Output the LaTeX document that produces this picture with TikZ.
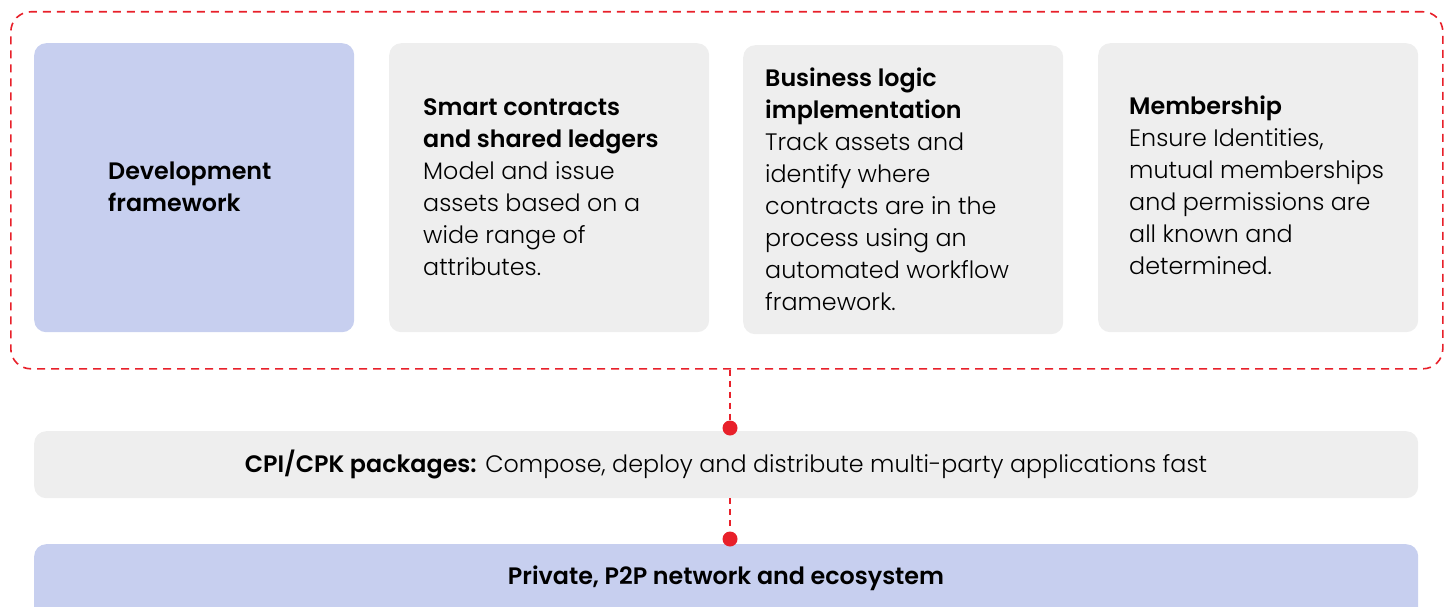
\documentclass[tikz,border=0pt]{standalone}
\usepackage{fontspec}
\setmainfont{Poppins}[UprightFont={* Light},BoldFont={* SemiBold}]
\definecolor{lav}{HTML}{C7CFEF}
\definecolor{lgray}{HTML}{EEEEEE}
\definecolor{rd}{HTML}{E8202A}
\begin{document}
\begin{tikzpicture}[x=1pt,y=-1pt,
  box/.style={rectangle,rounded corners=12pt,minimum width=320pt,minimum height=289pt,inner sep=0pt,anchor=north west},
  bar/.style={rectangle,rounded corners=12pt,minimum width=1384pt,inner sep=0pt,anchor=north west},
  txt/.style={anchor=west,align=left,inner sep=0pt,font=\fontsize{23.8}{32}\selectfont,text=black},
  frame/.style={draw=rd,line width=1.6pt,dash pattern=on 8pt off 6pt,rounded corners=20pt},
  conn/.style={draw=rd,line width=1.6pt,dash pattern=on 6pt off 5pt},
  dotn/.style={circle,fill=rd,minimum size=15pt,inner sep=0pt}]
\useasboundingbox (0,0) rectangle (1447,607);
\clip (0,0) rectangle (1447,607);
% outer frame
\node[frame,rectangle,inner sep=0pt,anchor=north west,minimum width=1432pt,minimum height=357pt] (frame) at (10,11) {};
% top boxes
\node[box,fill=lav] (b1) at (34,43) {};
\node[box,fill=lgray] (b2) at (389,43) {};
\node[box,fill=lgray] (b3) at (743,45) {};
\node[box,fill=lgray] (b4) at (1098,43) {};
\node[txt] (t1) at (108,187) {\textbf{Development}\\\textbf{framework}};
\node[txt] (t2) at (423,187) {\textbf{Smart contracts}\\\textbf{and shared ledgers}\\Model and issue\\assets based on a\\wide range of\\attributes.};
\node[txt] (t3) at (765,189) {\textbf{Business logic}\\\textbf{implementation}\\Track assets and\\identify where\\contracts are in the\\process using an\\automated workflow\\framework.};
\node[txt] (t4) at (1129,185) {\textbf{Membership}\\Ensure Identities,\\mutual memberships\\and permissions are\\all known and\\determined.};
% bars
\node[bar,fill=lgray,minimum height=67pt] (cpi) at (34,431) {};
\node[txt,anchor=center] (cpit) at (726,464) {\textbf{CPI/CPK packages:} Compose, deploy and distribute multi-party applications fast};
\node[bar,fill=lav,minimum height=90pt] (p2p) at (34,544) {};
\node[txt,anchor=center] (p2pt) at (726,578) {\textbf{Private, P2P network and ecosystem}};
% connectors
\node[dotn] (d1) at (730,428) {};
\node[dotn] (d2) at (730,539) {};
\draw[conn] (frame.south -| d1) -- (d1);
\draw[conn] (cpi.south -| d2) -- (d2);
\end{tikzpicture}
\end{document}
